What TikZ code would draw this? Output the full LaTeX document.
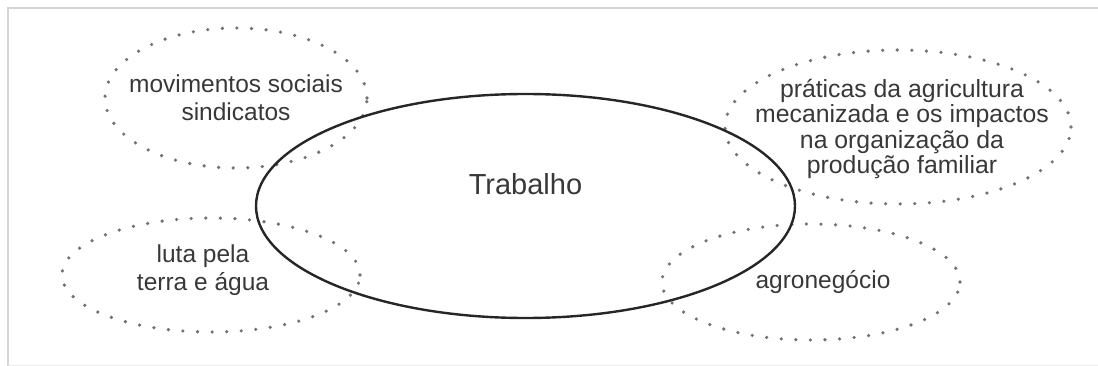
\documentclass[tikz,border=0pt]{standalone}
\usepackage{fontspec}
\setmainfont{Liberation Sans}
\usepackage{xcolor}
\usetikzlibrary{shapes.geometric}

\definecolor{txtgray}{HTML}{383838}
\definecolor{dotgray}{HTML}{727272}
\definecolor{framegray}{HTML}{D4D4D4}

\begin{document}
\begin{tikzpicture}[
x=1pt,y=-1pt,
every label/.style={font=\fontsize{24.5}{28}\selectfont,text=txtgray,align=center},
oval/.style={ellipse,inner sep=0pt},
dotoval/.style={oval,draw=dotgray,line width=3.6pt,line cap=round,dash pattern=on 0pt off 14.6pt},
mainoval/.style={oval,draw=black!85,line width=2.4pt}
]

\useasboundingbox (0,0) rectangle (1098,366);

% Frame
\draw[framegray,line width=1.5pt] (1098,8) -- (8,8) -- (8,366);
\draw[framegray!50,line width=1pt] (8,365) -- (1098,365);

% Dotted themes
\node[dotoval,minimum width=262pt,minimum height=140pt,
label={center:movimentos sociais\\sindicatos}] (mov) at (236,98) {};
\node[dotoval,minimum width=346pt,minimum height=154pt,
label={[font=\fontsize{24.8}{25.5}\selectfont,xshift=4pt,yshift=-2pt]center:práticas da agricultura\\mecanizada e os impactos\\na organização da\\produção familiar}] (prat) at (898,127) {};
\node[dotoval,minimum width=298pt,minimum height=114pt,
label={[xshift=-8pt,yshift=5pt]center:luta pela\\terra e água}] (luta) at (211,275) {};
\node[dotoval,minimum width=298pt,minimum height=116pt,
label={[xshift=12pt]center:agronegócio}] (agro) at (811,282) {};

% Central theme
\node[mainoval,minimum width=539pt,minimum height=224pt,
label={[font=\fontsize{29}{34}\selectfont,yshift=22pt]center:Trabalho}] (trab) at (525.5,206) {};

\end{tikzpicture}
\end{document}
